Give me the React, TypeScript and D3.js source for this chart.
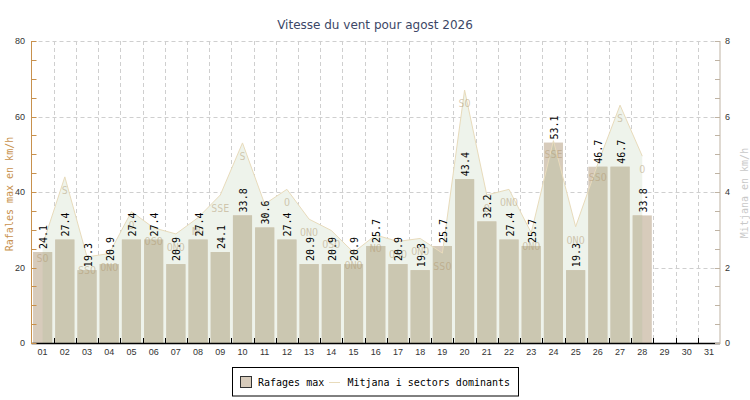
import React from 'react';
import * as d3 from 'd3';

const title = 'Vitesse du vent pour agost 2026';
const days = d3.range(1, 32).map(d => String(d).padStart(2, '0'));
const gusts = [24.1, 27.4, 19.3, 20.9, 27.4, 27.4, 20.9, 27.4, 24.1, 33.8, 30.6, 27.4, 20.9, 20.9, 20.9, 25.7, 20.9, 19.3, 25.7, 43.4, 32.2, 27.4, 25.7, 53.1, 19.3, 46.7, 46.7, 33.8];
const means = [2.6, 4.4, 2.28, 2.37, 3.48, 3.05, 2.89, 3.32, 3.92, 5.3, 3.68, 4.07, 3.28, 2.98, 2.4, 2.86, 2.69, 2.77, 2.38, 6.7, 3.92, 4.07, 2.92, 5.36, 3.08, 4.75, 6.3, 4.95];
const sectors = ['SO', 'S', 'SSO', 'ONO', 'O', 'OSO', 'ONO', 'NO', 'SSE', 'S', 'S', 'O', 'ONO', 'OSO', 'ONO', 'NO', 'OSO', 'ONO', 'SSO', 'SO', 'O', 'ONO', 'ONO', 'SSE', 'ONO', 'SSO', 'S', 'O'];
const leftTicks = [0, 20, 40, 60, 80];
const rightTicks = [0, 2, 4, 6, 8];

const W = 750;
const H = 400;
const plot = { left: 31.5, right: 720, top: 41, bottom: 343 };
const mono = '"DejaVu Sans Mono", monospace';
const sans = '"Liberation Sans", Arial, sans-serif';

const barTan = '#d7cbbb';
const barCovered = '#cbc7b1';
const areaFill = '#eef3eb';
const areaLine = '#e8dbbb';
const sectorColor = '#b09870';

export default function App() {
  const x = d3
    .scaleBand<string>()
    .domain(days)
    .range([plot.left, plot.right])
    .paddingInner(0.14)
    .paddingOuter(0.07);
  const step = x.step();
  const yL = d3.scaleLinear().domain([0, 80]).range([plot.bottom, plot.top]);
  const yR = d3.scaleLinear().domain([0, 8]).range([plot.bottom, plot.top]);
  const cx = (i: number) => (x(days[i]) as number) + x.bandwidth() / 2;

  const areaGen = d3
    .area<number>()
    .x((_, i) => cx(i))
    .y0(plot.bottom)
    .y1(d => yR(d));
  const lineGen = d3
    .line<number>()
    .x((_, i) => cx(i))
    .y(d => yR(d));
  const areaPath = areaGen(means) as string;

  const boundaries = d3.range(1, 31).map(i => plot.left + i * step);
  const leftMinor = d3.range(0, 81, 5);
  const rightMinor = d3.range(0, 8.01, 0.5);

  return (
    <svg width={W} height={H} style={{ position: 'absolute', left: 0, top: 0, background: '#fff' }}>
      <defs>
        <clipPath id="areaClip">
          <path d={areaPath} />
        </clipPath>
      </defs>
      <text x={375} y={29} textAnchor="middle" fontFamily={'"DejaVu Sans", sans-serif'} fontSize={12} fill="#3c4766">
        {title}
      </text>

      {/* grid */}
      <g stroke="#cfcfcf" strokeDasharray="4,3" strokeWidth={1}>
        {leftTicks.slice(1).map(t => (
          <line key={'h' + t} x1={plot.left} x2={plot.right} y1={Math.round(yL(t)) + 0.5} y2={Math.round(yL(t)) + 0.5} />
        ))}
        {boundaries.map((b, i) => (
          <line key={'v' + i} x1={Math.round(b) + 0.5} x2={Math.round(b) + 0.5} y1={plot.top} y2={plot.bottom} />
        ))}
      </g>

      {/* mean area */}
      <path d={areaPath} fill={areaFill} />

      {/* gust bars */}
      {gusts.map((g, i) => (
        <rect key={'b' + i} x={x(days[i])} y={yL(g)} width={x.bandwidth()} height={plot.bottom - yL(g)} fill={barTan} />
      ))}
      <g clipPath="url(#areaClip)">
        {gusts.map((g, i) => (
          <rect key={'c' + i} x={x(days[i])} y={yL(g)} width={x.bandwidth()} height={plot.bottom - yL(g)} fill={barCovered} />
        ))}
      </g>
      <path d={lineGen(means) as string} fill="none" stroke={areaLine} strokeWidth={1} />

      {/* sector labels */}
      {sectors.map((s, i) => (
        <text
          key={'s' + i}
          x={cx(i)}
          y={yR(means[i]) + 14}
          textAnchor="middle"
          dominantBaseline="middle"
          fontFamily={mono}
          fontSize={10}
          fill={sectorColor}
          fillOpacity={0.5}
        >
          {s}
        </text>
      ))}

      {/* value labels */}
      {gusts.map((g, i) => (
        <text
          key={'v' + i}
          transform={`translate(${cx(i) + 1.5},${yL(g) - 3}) rotate(-90)`}
          dominantBaseline="middle"
          fontFamily={mono}
          fontSize={10}
          fill="#000"
        >
          {g.toFixed(1)}
        </text>
      ))}

      {/* x axis */}
      <line x1={plot.left} x2={plot.right} y1={plot.bottom + 0.5} y2={plot.bottom + 0.5} stroke="#000" strokeWidth={1.5} />
      {boundaries.map((b, i) => (
        <line key={'xt' + i} x1={Math.round(b) + 0.5} x2={Math.round(b) + 0.5} y1={plot.bottom} y2={plot.bottom - 5} stroke="#000" />
      ))}
      {days.map((d, i) => (
        <text key={'xl' + d} x={cx(i)} y={355} textAnchor="middle" fontFamily={sans} fontSize={9} fill="#333">
          {d}
        </text>
      ))}

      {/* left axis */}
      <line x1={plot.left} x2={plot.left} y1={plot.top} y2={plot.bottom + 1} stroke="#c8914d" strokeWidth={1} />
      {leftMinor.map(t => (
        <line key={'lt' + t} x1={plot.left} x2={plot.left + 5} y1={Math.round(yL(t)) + 0.5} y2={Math.round(yL(t)) + 0.5} stroke="#c8914d" />
      ))}
      {leftTicks.map(t => (
        <text key={'ll' + t} x={25} y={yL(t) + 3} textAnchor="end" fontFamily={sans} fontSize={9} fill="#333">
          {t}
        </text>
      ))}
      <text transform={`translate(10,194) rotate(-90)`} textAnchor="middle" dominantBaseline="middle" fontFamily={mono} fontSize={10} fill="#c8914d">
        Rafales max en km/h
      </text>

      {/* right axis */}
      <line x1={plot.right} x2={plot.right} y1={plot.top} y2={plot.bottom + 1} stroke="#bfb3a3" strokeWidth={1} />
      {rightMinor.map(t => (
        <line key={'rt' + t} x1={plot.right - 5} x2={plot.right} y1={Math.round(yR(t)) + 0.5} y2={Math.round(yR(t)) + 0.5} stroke="#bfb3a3" />
      ))}
      {rightTicks.map(t => (
        <text key={'rl' + t} x={725} y={yR(t) + 3} fontFamily={sans} fontSize={9} fill="#333">
          {t}
        </text>
      ))}
      <text transform={`translate(745,193) rotate(-90)`} textAnchor="middle" dominantBaseline="middle" fontFamily={mono} fontSize={10} fill="#c8c8c8">
        Mitjana en km/h
      </text>

      {/* legend */}
      <rect x={232.5} y={367.5} width={286} height={28.5} fill="#fff" stroke="#000" />
      <rect x={240.5} y={376.5} width={11} height={11} fill={barTan} stroke="#333" />
      <text x={258} y={386} fontFamily={mono} fontSize={10} fill="#000">
        Rafages max
      </text>
      <line x1={329} x2={340} y1={382.5} y2={382.5} stroke={areaLine} />
      <text x={347.5} y={386} fontFamily={mono} fontSize={10} fill="#000">
        Mitjana i sectors dominants
      </text>
    </svg>
  );
}
